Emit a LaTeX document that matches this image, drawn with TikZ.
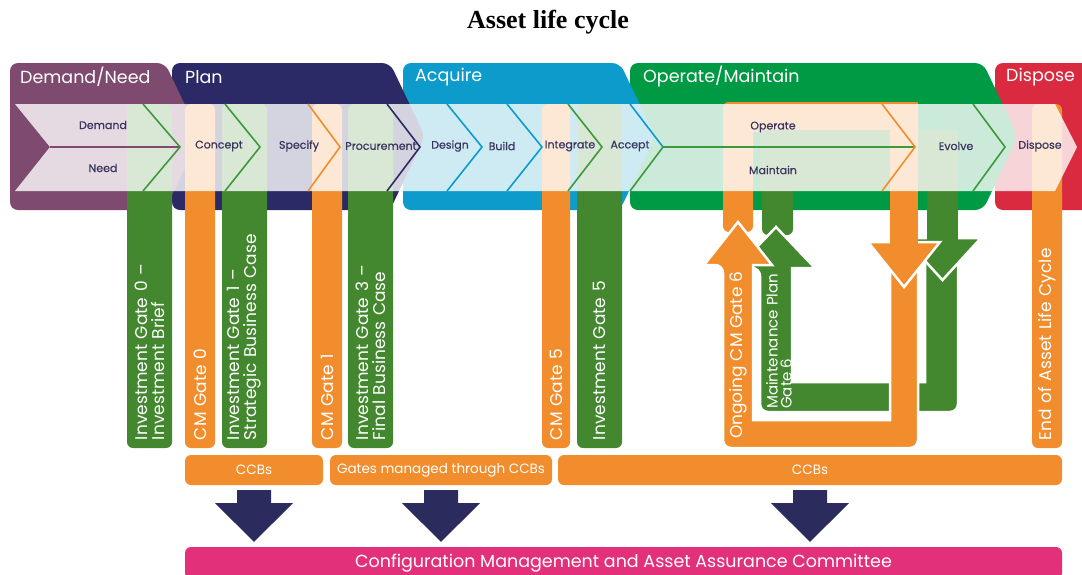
\documentclass[tikz,border=0pt]{standalone}
\usepackage{fontspec}
\usetikzlibrary{positioning,calc}
\newfontfamily\gotham{Poppins}
\newfontfamily\gothamsemi[FakeBold=0.6]{Poppins}
\newfontfamily\titlefont{Liberation Serif}

\definecolor{dnpurple}{HTML}{7E4A70}
\definecolor{plannavy}{HTML}{2C2A66}
\definecolor{acqcyan}{HTML}{0D9BCB}
\definecolor{opgreen}{HTML}{009A45}
\definecolor{disred}{HTML}{DA2A3F}
\definecolor{gateorange}{HTML}{F18D2C}
\definecolor{gategreen}{HTML}{43882F}
\definecolor{stepgreen}{HTML}{3C9A3C}
\definecolor{stepink}{HTML}{3B3560}
\definecolor{cmpink}{HTML}{E2307A}
\definecolor{arrownavy}{HTML}{2B2B5E}

\tikzset{
x=1pt, y=-1pt, % one unit per pixel, y grows downwards
phasebox/.style={fill=#1, rounded corners=8}, % coloured phase header
phasename/.style={font=\gotham\fontsize{17.5}{18}\selectfont, text=white, anchor=west, inner sep=0},
steplabel/.style={font=\gothamsemi\fontsize{11}{12}\selectfont, text=stepink, inner sep=0},
stepline/.style={draw=#1, line width=1.6, line join=miter}, % chevron dividers
gatebar/.style={fill=#1, rotate=90, rounded corners=6, minimum width=344, text width=328,
  inner xsep=8, inner ysep=0, align=left, font=\gotham\fontsize{17}{17}\selectfont, text=white},
loopbar/.style={fill=#1, draw=white, line width=2.5}, % gate 6 loops
ccbbox/.style={fill=gateorange, rounded corners=6, minimum height=30, inner sep=0,
  font=\gotham\fontsize{13.5}{14}\selectfont, text=white},
}

% header with a pointed right side
\newcommand{\phase}[3]{\fill[phasebox=#3] (#1,63) -- (#2,63) -- (#2+35,136.5) -- (#2,210) -- (#1,210) -- cycle;}
% chevron divider inside the band
\newcommand{\chevron}[3]{\draw[stepline=#3] (#1,104) -- (#2,147) -- (#1,191);}
% block arrow from a CCB box down to the committee bar
\newcommand{\ccbarrow}[2]{\fill[arrownavy] ($(#1.south)+(-17,5)$) -- ($(#1.south)+(17,5)$) -- ($(#1.south)+(17,18)$)
  -- ($(#1.south)+(39,18)$) -- ($(#1.south |- #2.north)+(0,-5)$) -- ($(#1.south)+(-39,18)$) -- ($(#1.south)+(-17,18)$) -- cycle;}

\begin{document}
\begin{tikzpicture}
\fill[white] (0,0) rectangle (1082,574);
\clip (0,0) rectangle (1082,574);

\node[font=\titlefont\bfseries\fontsize{26}{26}\selectfont] (title) at (548,22) {Asset life cycle};

% phases, right to left so each tip lies over the next one
\fill[phasebox=disred] (995,63) rectangle (1110,210);
\phase{630}{983}{opgreen}
\phase{403}{620}{acqcyan}
\phase{172}{390}{plannavy}
\phase{10}{165}{dnpurple}

\node[phasename] (demandneed) at (20,77) {Demand/Need};
\node[phasename] (plan) at (185,77) {Plan};
\node[phasename] (acquire) at (415,77) {Acquire};
\node[phasename] (operate) at (643,77) {Operate/Maintain};
\node[phasename] (dispose) at (1006,77) {Dispose};

% gates
\node[gatebar=gategreen, minimum height=45] (ig0) at (149.5,276) {Investment Gate 0 –\\Investment Brief};
\node[gatebar=gateorange, minimum height=30] (cm0) at (200,276) {CM Gate 0};
\node[gatebar=gategreen, minimum height=45] (ig1) at (244.5,276) {Investment Gate 1 –\\Strategic Business Case};
\node[gatebar=gateorange, minimum height=30] (cm1) at (327,276) {CM Gate 1};
\node[gatebar=gategreen, minimum height=45] (ig3) at (370.5,276) {Investment Gate 3 –\\Final Business Case};
\node[gatebar=gateorange, minimum height=28] (cm5) at (556,276) {CM Gate 5};
\node[gatebar=gategreen, minimum height=45] (ig5) at (599.5,276) {Investment Gate 5};
\node[gatebar=gateorange, minimum height=30] (eol) at (1047,276) {End of Asset Life Cycle};

% gate 6 loops: green one first, orange one over it
\fill[gateorange, rounded corners=6] (723,102) rectangle (918,132);
\fill[gategreen] (760,130) rectangle (958,191);
\fill[gategreen, rounded corners=6] (762,130) rectangle (793,235);
\filldraw[loopbar=gategreen] (737,268) -- (776,227) -- (815,268) -- (792,268) -- (792,382) -- (925,382)
  -- (925,250) -- (958,250) [rounded corners=8] -- (958,412) -- (760,412) -- (760,268) [sharp corners] -- cycle;
\filldraw[loopbar=gategreen] (904,238) -- (981,238) -- (942.5,280) -- cycle;
\fill[gategreen] (927,130) rectangle (958,239.5);
\fill[gateorange, rounded corners=6] (723,102) rectangle (753,232);
\filldraw[loopbar=gateorange] (704,265) -- (738,222) -- (772,265) -- (753,265) -- (753,420) -- (890,420)
  -- (890,260) -- (918,260) [rounded corners=8] -- (918,448) -- (723,448) -- (723,265) [sharp corners] -- cycle;
\filldraw[loopbar=gateorange] (868,242) -- (940,242) -- (904,287) -- cycle;
\fill[gateorange] (890,102) rectangle (918,243.5);

\node[rotate=90, anchor=west, inner sep=0, text=white, font=\gotham\fontsize{17}{17}\selectfont] (ongoing) at (738,439) {Ongoing CM Gate 6};
\node[rotate=90, anchor=west, inner sep=0, text=white, align=left, font=\gotham\fontsize{15}{14}\selectfont] (mplan) at (779,409) {Maintenance Plan\\Gate 6};

% life cycle band
\fill[white, opacity=0.8] (15,104) -- (1055,104) -- (1077,147) -- (1055,191) -- (15,191) -- (50,147) -- cycle;

\draw[stepline=dnpurple] (50,147) -- (180,147);
\chevron{143}{180}{stepgreen}
\chevron{225}{260}{stepgreen}
\chevron{308}{340}{gateorange}
\chevron{387}{420}{plannavy}
\chevron{447}{482}{acqcyan}
\chevron{507}{542}{acqcyan}
\chevron{568}{602}{stepgreen}
\draw[stepline=acqcyan] (630,104) -- (663,147);
\draw[stepline=stepgreen] (663,147) -- (630,191);
\draw[stepline=stepgreen] (663,147) -- (915,147);
\chevron{882}{915}{gateorange}
\chevron{973}{1005}{stepgreen}

\node[steplabel] (demand) at (103,125) {Demand};
\node[steplabel] (need) at (103,168) {Need};
\node[steplabel] (concept) at (219,146) {Concept};
\node[steplabel] (specify) at (299,146) {Specify};
\node[steplabel] (procure) at (381,146) {Procurement};
\node[steplabel] (design) at (450,146) {Design};
\node[steplabel] (build) at (502,146) {Build};
\node[steplabel] (integrate) at (570,146) {Integrate};
\node[steplabel] (accept) at (630,146) {Accept};
\node[steplabel] (operatestep) at (773,127) {Operate};
\node[steplabel] (maintain) at (773,170) {Maintain};
\node[steplabel] (evolve) at (956,146) {Evolve};
\node[steplabel] (disposestep) at (1040,146) {Dispose};

% change boards and committee
\node[ccbbox, minimum width=138] (ccbA) at (254,470) {CCBs};
\node[ccbbox, minimum width=222] (ccbB) at (441,470) {Gates managed through CCBs};
\node[ccbbox, minimum width=504] (ccbC) at (810,470) {CCBs};
\node[fill=cmpink, rounded corners=6, minimum width=877, minimum height=32, inner sep=0, text=white,
  font=\gotham\fontsize{17.5}{18}\selectfont] (cmaac) at (623.5,563) {Configuration Management and Asset Assurance Committee};

\ccbarrow{ccbA}{cmaac}
\ccbarrow{ccbB}{cmaac}
\ccbarrow{ccbC}{cmaac}
\end{tikzpicture}
\end{document}
